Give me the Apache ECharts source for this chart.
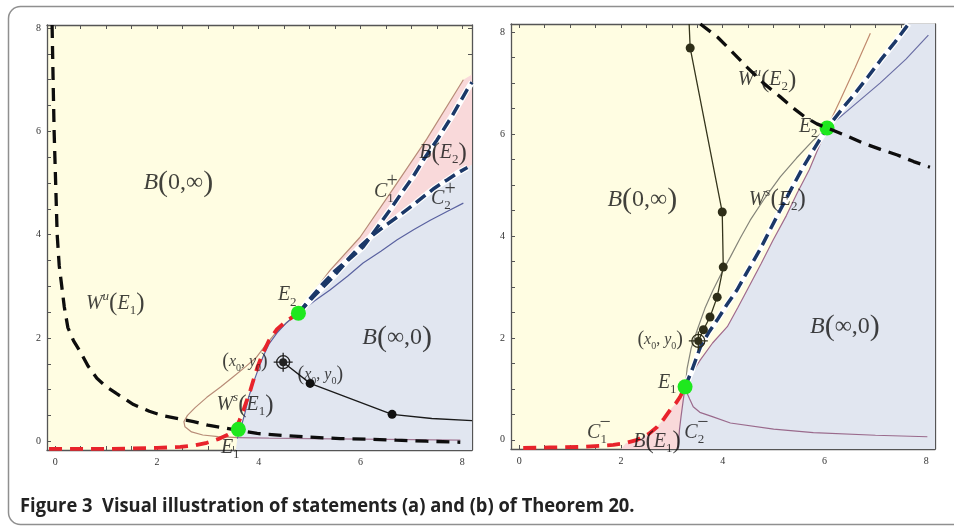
<!DOCTYPE html>
<html><head><meta charset="utf-8">
<script src="https://cdn.jsdelivr.net/npm/echarts@6/dist/echarts.min.js"></script>
<style>html,body{margin:0;padding:0;background:#fff}#c{width:954px;height:528px}</style>
</head><body><div id="c"></div>
<script>
// ---------- axis ticks ----------
const tickValues = [0,0.5,1,1.5,2,2.5,3,3.5,4,4.5,5,5.5,6,6.5,7,7.5,8];
const tickLabels = [0,2,4,6,8];

// ---------- left panel (a) ----------
const leftWuE1 = [[-0.06,8.06],[-0.04,7.0],[-0.02,6.0],[0.01,5.0],[0.04,4.0],[0.08,3.4],[0.13,3.0],[0.18,2.6],[0.25,2.2],[0.36,1.95],[0.49,1.74],[0.65,1.45],[0.82,1.22],[1.0,1.06],[1.21,0.92],[1.54,0.71],[1.85,0.58],[2.13,0.49],[2.45,0.43],[2.72,0.38],[3.0,0.31],[3.3,0.26],[3.6,0.21],[3.97,0.15],[4.5,0.11],[5.0,0.08],[5.6,0.05],[6.13,0.04],[6.7,0.02],[7.3,0.0],[7.96,-0.02]];
const leftRed = [[-0.12,-0.15],[0.5,-0.15],[1.0,-0.15],[1.5,-0.14],[2.0,-0.13],[2.46,-0.11],[2.75,-0.08],[2.98,-0.03],[3.2,0.04],[3.38,0.12],[3.52,0.2],[3.62,0.4],[3.7,0.6],[3.77,0.8],[3.84,1.0],[3.9,1.2],[3.98,1.45],[4.08,1.7],[4.2,1.95],[4.36,2.17],[4.55,2.33],[4.78,2.48]];
const leftBrown = [[3.6,0.07],[3.2,0.09],[2.9,0.12],[2.68,0.18],[2.55,0.28],[2.53,0.38],[2.6,0.5],[2.75,0.65],[2.98,0.85],[3.25,1.05],[3.5,1.25],[3.75,1.45],[3.95,1.62],[4.12,1.84],[4.3,2.06],[4.5,2.25],[4.78,2.5],[5.05,2.85],[5.4,3.31],[5.99,3.95],[6.58,4.8],[7.3,5.85],[8.02,7.0]];
const leftBottomThin = [[3.6,0.07],[4.2,0.06],[5.0,0.05],[6.0,0.04],[7.0,0.03],[7.96,0.02]];
const leftThinNavy = [[3.58,0.05],[3.66,0.3],[3.73,0.55],[3.8,0.85],[3.9,1.15],[4.0,1.42],[4.09,1.65],[4.2,1.88],[4.36,2.1],[4.55,2.3],[4.78,2.48],[5.1,2.72],[5.4,2.93],[5.75,3.2],[6.05,3.45],[6.4,3.68],[6.72,3.9],[7.05,4.1],[7.37,4.28],[7.7,4.45],[8.02,4.61]];
const leftC1 = [[4.78,2.48],[5.07,2.79],[5.46,3.18],[5.75,3.5],[6.05,3.76],[6.3,4.1],[6.58,4.48],[6.8,4.8],[7.03,5.12],[7.25,5.47],[7.5,5.83],[7.8,6.3],[8.09,6.8],[8.19,6.95]];
const leftC2 = [[4.78,2.48],[5.0,2.75],[5.27,3.06],[5.5,3.3],[5.74,3.51],[6.0,3.78],[6.19,3.95],[6.45,4.15],[6.72,4.34],[7.0,4.55],[7.23,4.73],[7.45,4.9],[7.7,5.06],[7.9,5.19],[8.1,5.3]];
const leftTrajectory = [[4.48,1.53],[5.01,1.12],[6.62,0.52],[7.4,0.44],[8.19,0.4]];
const leftTrajDots = [[5.01,1.12],[6.62,0.52]];
const leftStart = [[4.48,1.53]];
const leftEquilibria = [[3.6,0.23],[4.78,2.48]];

// ---------- right panel (b) ----------
const rightWuE2 = [[3.56,8.16],[3.9,7.9],[4.1,7.7],[4.48,7.31],[4.8,7.0],[5.13,6.73],[5.4,6.5],[5.62,6.33],[5.85,6.2],[6.05,6.12],[6.4,5.98],[6.76,5.82],[7.1,5.7],[7.43,5.59],[7.75,5.46],[8.07,5.35]];
const rightNavyDashed = [[3.26,1.04],[3.4,1.38],[3.56,1.82],[3.72,2.1],[3.89,2.35],[4.08,2.65],[4.28,2.94],[4.5,3.33],[4.73,3.73],[4.93,4.12],[5.13,4.51],[5.35,4.93],[5.58,5.35],[5.8,5.72],[6.05,6.12],[6.35,6.5],[6.6,6.8],[6.85,7.12],[7.1,7.45],[7.38,7.8],[7.65,8.16]];
const rightGray = [[3.27,1.1],[3.3,1.4],[3.38,1.8],[3.5,2.16],[3.65,2.58],[3.81,2.94],[3.98,3.28],[4.15,3.59],[4.35,3.97],[4.54,4.31],[4.83,4.75],[5.13,5.16],[5.45,5.53],[5.78,5.88],[6.05,6.12]];
const rightThinUpper = [[6.05,6.12],[6.5,6.5],[7.09,7.0],[7.6,7.47],[8.04,7.94]];
const rightSteep = [[3.28,1.1],[3.42,1.35],[3.56,1.57],[3.8,1.9],[4.09,2.22],[4.3,2.6],[4.48,2.94],[4.75,3.45],[4.99,3.92],[5.25,4.4],[5.46,4.84],[5.7,5.3],[5.91,5.8],[6.05,6.12],[6.3,6.65],[6.6,7.3],[6.9,7.98]];
const rightLowerThin = [[3.26,1.0],[3.35,0.8],[3.42,0.65],[3.55,0.54],[3.81,0.45],[4.15,0.33],[5.0,0.21],[5.78,0.14],[7.0,0.09],[8.02,0.06]];
const rightC2minus = [[3.26,1.04],[3.22,0.75],[3.18,0.45],[3.15,0.2],[3.12,-0.18]];
const rightRed = [[0.08,-0.16],[0.6,-0.15],[1.2,-0.14],[1.85,-0.1],[2.1,-0.06],[2.32,0.0],[2.55,0.12],[2.71,0.25],[2.85,0.42],[2.97,0.59],[3.08,0.72],[3.16,0.84],[3.26,1.04]];
const rightTrajectory = [[3.52,1.94],[3.62,2.16],[3.75,2.41],[3.89,2.8],[4.01,3.39],[3.99,4.47],[3.36,7.69],[3.34,8.16]];
const rightTrajDots = [[3.62,2.16],[3.75,2.41],[3.89,2.8],[4.01,3.39],[3.99,4.47],[3.36,7.69]];
const rightStart = [[3.52,1.94]];
const rightEquilibria = [[3.26,1.04],[6.05,6.12]];

// ---------- text annotations (data coordinates) ----------
const leftLabels = [
  [2.42,5.0,'{Lv|B}{Lp|(}{Ln|0,∞}{Lp|)}'],
  [6.46,4.84,'{Mv|C}{Mb|1}'],
  [6.62,5.03,'{Mn|+}'],
  [7.62,5.58,'{Mv|B}{Mp|(}{Mv|E}{Mb|2}{Mp|)}'],
  [7.58,4.69,'{Mv|C}{Mb|2}'],
  [7.76,4.86,'{Mn|+}'],
  [1.18,2.67,'{Mv|W}{Mt|u}{Mp|(}{Mv|E}{Mb|1}{Mp|)}'],
  [4.56,2.83,'{Mv|E}{Mb|2}'],
  [6.72,2.0,'{Lv|B}{Lp|(}{Ln|∞,0}{Lp|)}'],
  [3.73,1.53,'{Sp|(}{Sv|x}{Sb|0}{Sn|, }{Sv|y}{Sb|0}{Sp|)}'],
  [5.21,1.28,'{Sp|(}{Sv|x}{Sb|0}{Sn|, }{Sv|y}{Sb|0}{Sp|)}'],
  [3.73,0.70,'{Mv|W}{Mt|s}{Mp|(}{Mv|E}{Mb|1}{Mp|)}'],
  [3.44,-0.12,'{Mv|E}{Mb|1}']
];
const rightLabels = [
  [4.87,7.06,'{Mv|W}{Mt|u}{Mp|(}{Mv|E}{Mb|2}{Mp|)}'],
  [5.68,6.14,'{Mv|E}{Mb|2}'],
  [2.42,4.71,'{Lv|B}{Lp|(}{Ln|0,∞}{Lp|)}'],
  [5.07,4.71,'{Mv|W}{Mt|s}{Mp|(}{Mv|E}{Mb|2}{Mp|)}'],
  [6.4,2.22,'{Lv|B}{Lp|(}{Ln|∞,0}{Lp|)}'],
  [2.77,1.96,'{Sp|(}{Sv|x}{Sb|0}{Sn|, }{Sv|y}{Sb|0}{Sp|)}'],
  [2.91,1.12,'{Mv|E}{Mb|1}'],
  [1.53,0.14,'{Mv|C}{Mb|1}'],
  [1.69,0.34,'{Mn|−}'],
  [2.71,-0.04,'{Mv|B}{Mp|(}{Mv|E}{Mb|1}{Mp|)}'],
  [3.44,0.14,'{Mv|C}{Mb|2}'],
  [3.61,0.34,'{Mn|−}']
];

// ---------- styling / assembly ----------
const SERIF = '"Liberation Serif", "DejaVu Serif", serif';
function richSet(p, s) {
  const r = {};
  const lh = Math.round(s * 1.35);
  const ss = Math.round(s * 0.64);
  r[p+'v'] = {fontFamily:SERIF, fontStyle:'italic', fontSize:s, color:'#111', verticalAlign:'middle', lineHeight:lh};
  r[p+'p'] = {fontFamily:SERIF, fontSize:Math.round(s*1.25), color:'#111', verticalAlign:'middle', lineHeight:lh};
  r[p+'n'] = {fontFamily:SERIF, fontSize:s, color:'#111', verticalAlign:'middle', lineHeight:lh};
  r[p+'b'] = {fontFamily:SERIF, fontSize:ss, color:'#111', verticalAlign:'bottom', lineHeight:ss};
  r[p+'t'] = {fontFamily:SERIF, fontStyle:'italic', fontSize:ss, color:'#111', verticalAlign:'top', lineHeight:ss};
  return r;
}
const RICH = Object.assign({}, richSet('L', 24), richSet('M', 20), richSet('S', 16));

const AX = '#555';
function xAxes(gi, min, max) {
  const base = {gridIndex:gi, type:'value', min, max, splitLine:{show:false},
    axisLine:{onZero:false, lineStyle:{color:AX, width:1.3}},
    axisTick:{inside:true, length:4, customValues:tickValues, lineStyle:{color:AX, width:1}}};
  return [
    Object.assign({}, base, {position:'bottom', axisLabel:{customValues:tickLabels, fontFamily:SERIF, fontSize:10, color:'#333', margin:7}}),
    Object.assign({}, base, {position:'top', axisLabel:{show:false}})
  ];
}
function yAxes(gi, min, max) {
  const base = {gridIndex:gi, type:'value', min, max, splitLine:{show:false},
    axisLine:{onZero:false, lineStyle:{color:AX, width:1.3}},
    axisTick:{inside:true, length:4, customValues:tickValues, lineStyle:{color:AX, width:1}}};
  return [
    Object.assign({}, base, {position:'left', axisLabel:{customValues:tickLabels, fontFamily:SERIF, fontSize:10, color:'#333', margin:6}}),
    Object.assign({}, base, {position:'right', axisLabel:{show:false}})
  ];
}

function line(ax, data, color, width, type, z) {
  return {type:'line', xAxisIndex:ax, yAxisIndex:ax, data, symbol:'none', silent:true, z,
    lineStyle:{color, width, type, cap:'butt'}, animation:false};
}
function poly(ax, pts, color, z) {
  return {type:'custom', xAxisIndex:ax, yAxisIndex:ax, data:[[0,0]], z, silent:true, clip:true, animation:false,
    renderItem: (params, api) => ({type:'polygon', shape:{points: pts.map(p => api.coord(p))}, style:{fill:color}})};
}
function dots(ax, data, size, color, z) {
  return {type:'scatter', xAxisIndex:ax, yAxisIndex:ax, data, symbolSize:size, silent:true, z,
    itemStyle:{color, opacity:1}, animation:false};
}
function startMark(ax, data, color) {
  return [
    {type:'scatter', xAxisIndex:ax, yAxisIndex:ax, data, symbol:'circle', symbolSize:13, silent:true, z:12,
      itemStyle:{color:'rgba(0,0,0,0)', borderColor:color, borderWidth:1.3, opacity:1}, animation:false},
    {type:'scatter', xAxisIndex:ax, yAxisIndex:ax, data, symbol:'path://M0 10L20 10M10 0L10 20', symbolSize:19, silent:true, z:12,
      itemStyle:{color:'rgba(0,0,0,0)', borderColor:color, borderWidth:1.3, opacity:1}, animation:false},
    dots(ax, data, 8, color, 12)
  ];
}
function labels(ax, list) {
  return {type:'scatter', xAxisIndex:ax, yAxisIndex:ax, symbolSize:0, silent:true, z:20, animation:false,
    data: list.map(l => ({value:[l[0], l[1]], name:l[2]})),
    label:{show:true, position:'inside', formatter: p => p.name, rich:RICH}};
}

const BLACK = '#0d0d0d', RED = '#e8232b', NAVY = '#1b3868', GREEN = '#1ee81e';
const BLUE_BG = '#e1e6f0', PINK_BG = '#f9d9da', YELLOW_BG = '#fffde2';

// build regions from curves
const iL = leftThinNavy.findIndex(p => p[0] === 4.78 && p[1] === 2.48);
const leftBlue = [[3.55,-0.17]].concat(leftThinNavy.slice(0, iL+1), leftC2.slice(1), [[8.19,5.36],[8.19,-0.17]]);
const iB = leftBrown.findIndex(p => p[0] === 4.78);
const leftPink = leftBrown.slice(iB).concat([[8.19,7.1],[8.19,5.36]], leftC2.slice().reverse());
const iR = rightNavyDashed.findIndex(p => p[0] === 6.05);
const iS = rightSteep.findIndex(p => p[0] === 6.05);
const rightBlue = rightNavyDashed.slice(iR).reverse().concat(rightSteep.slice(0, iS+1).reverse(), rightC2minus, [[8.17,-0.18],[8.17,8.16]]);
const rightPink = [[2.0,-0.18]].concat(rightRed.filter(p => p[0] >= 2.1), rightC2minus.slice(1));

const series = [
  // left
  poly(0, leftBlue, BLUE_BG, 1),
  poly(0, leftPink, PINK_BG, 1),
  line(0, leftBottomThin, '#a47a96', 1.2, 'solid', 3),
  line(0, leftBrown, '#b88c78', 1.2, 'solid', 3),
  line(0, leftThinNavy, '#5a62a0', 1.2, 'solid', 3),
  line(0, leftC1, '#ffffff', 6, 'solid', 4),
  line(0, leftC2, '#ffffff', 6, 'solid', 4),
  line(0, leftC1, NAVY, 3.5, [12,6], 5),
  line(0, leftC2, NAVY, 3.5, [12,6], 5),
  line(0, leftRed, RED, 3.8, [13,8], 6),
  line(0, leftWuE1, BLACK, 3.3, [13,8], 6),
  line(0, leftTrajectory, '#1a1a1a', 1.3, 'solid', 7),
  dots(0, leftTrajDots, 9, '#111', 8),
  ...startMark(0, leftStart, '#222'),
  dots(0, leftEquilibria, 15, GREEN, 10),
  labels(0, leftLabels),
  // right
  poly(2, rightBlue, BLUE_BG, 1),
  poly(2, rightPink, PINK_BG, 1),
  line(2, rightC2minus, '#9a6a8c', 1.2, 'solid', 3),
  line(2, rightLowerThin, '#9a6a8c', 1.2, 'solid', 3),
  line(2, rightSteep.slice(0, iS+1), '#a06a8c', 1.2, 'solid', 3),
  line(2, rightSteep.slice(iS), '#c08a6e', 1.2, 'solid', 3),
  line(2, rightGray, '#85857a', 1.2, 'solid', 3),
  line(2, rightThinUpper, '#6a6ea4', 1.2, 'solid', 3),
  line(2, rightNavyDashed, '#ffffff', 6, 'solid', 4),
  line(2, rightNavyDashed, NAVY, 3.5, [12,6], 5),
  line(2, rightRed, RED, 3.8, [13,8], 6),
  line(2, rightTrajectory, '#35351c', 1.3, 'solid', 7),
  dots(2, rightTrajDots, 9, '#2e2e18', 8),
  ...startMark(2, rightStart, '#2e2e18'),
  dots(2, rightEquilibria, 15, GREEN, 10),
  line(2, rightWuE2, BLACK, 3.3, [13,8], 11),
  labels(2, rightLabels)
];

const chart = echarts.init(document.getElementById('c'), null, {renderer:'canvas'});
chart.setOption({
  animation:false,
  backgroundColor:'#ffffff',
  grid:[
    {left:47, top:25, width:425, height:425, show:true, backgroundColor:YELLOW_BG, borderWidth:0},
    {left:511, top:24, width:424, height:425, show:true, backgroundColor:YELLOW_BG, borderWidth:0}
  ],
  xAxis:[...xAxes(0,-0.16,8.19), ...xAxes(1,-0.16,8.17)],
  yAxis:[...yAxes(0,-0.17,8.06), ...yAxes(1,-0.18,8.16)],
  series,
  graphic:[
    {type:'rect', shape:{x:8.5, y:6.5, width:1000, height:518, r:12}, style:{fill:'none', stroke:'#8f8f8f', lineWidth:1.5}, z:-1, silent:true},
    {type:'text', x:20, y:506, scaleX:0.94, style:{text:'Figure 3  Visual illustration of statements (a) and (b) of Theorem 20.', font:'bold 19.5px "Open Sans"', fill:'#222', verticalAlign:'middle'}, silent:true}
  ]
});
</script></body></html>
